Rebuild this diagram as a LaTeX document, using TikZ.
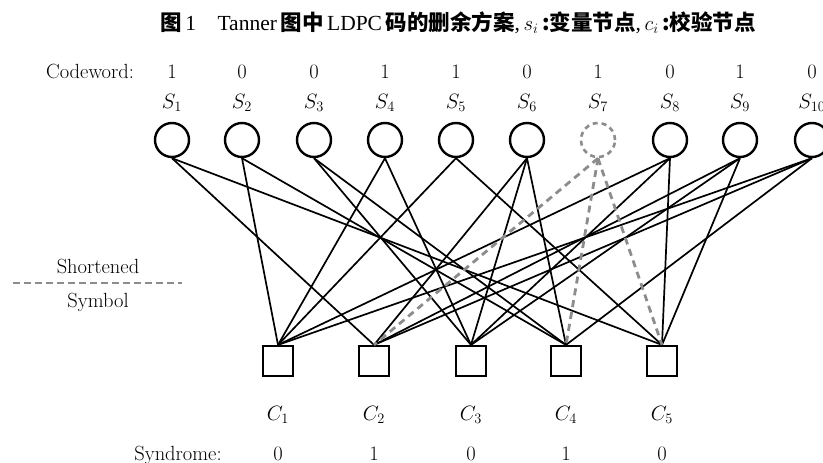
\documentclass[tikz,border=0pt]{standalone}
\usepackage{fontspec}
\newfontfamily\cjk{Noto Sans CJK SC}
\newfontfamily\tnr{Liberation Serif}
\definecolor{shgray}{RGB}{140,140,140}
\begin{document}
\begin{tikzpicture}[x=1pt,y=-1pt,
  vnode/.style={circle, draw, line width=2.4pt, minimum size=34pt, inner sep=0pt},
  snode/.style={circle, draw=shgray, line width=2.6pt, minimum size=34pt, inner sep=0pt, dash pattern=on 5pt off 4pt},
  cnode/.style={rectangle, draw, line width=2.2pt, minimum width=30pt, minimum height=30pt, inner sep=0pt},
  edge/.style={line width=1.7pt},
  sedge/.style={line width=2.8pt, draw=shgray, dash pattern=on 7pt off 5pt},
  lbl/.style={font=\fontsize{20.5}{24}\selectfont, inner sep=0pt, anchor=base},
  titlefont/.style={font=\fontsize{21.5}{24}\selectfont, inner sep=0pt}
]
\useasboundingbox (0,0) rectangle (823,463);

% title
\node[titlefont] (title) at (458,23) {{\cjk\bfseries 图}\,{\tnr 1}\quad{\tnr Tanner}\,{\cjk\bfseries 图中}\,{\tnr LDPC}\,{\cjk\bfseries 码的删余方案}{\tnr ,}\,$s_i$\,{\cjk\bfseries :}{\cjk\bfseries 变量节点}{\tnr ,}\,$c_i$\,{\cjk\bfseries :}{\cjk\bfseries 校验节点}};

% codeword row
\node[lbl] (cwl) at (90,78) {Codeword:};
\foreach \x/\b [count=\i] in {172/1,242/0,314/0,385/1,456/1,527/0,598/1,670/0,740/1,812/0}{
  \node[lbl] (b\i) at (\x,78) {\b};
  \node[lbl] (sl\i) at (\x,108) {$S_{\i}$};
}

% variable nodes
\foreach \x [count=\i] in {172,242,314,385,456,527}{
  \node[vnode] (s\i) at (\x,140) {};
}
\node[snode] (s7) at (598,140) {};
\foreach \x [count=\i from 8] in {670,740,812}{
  \node[vnode] (s\i) at (\x,140) {};
}

% check nodes
\foreach \x/\b [count=\i] in {278/0,374/1,471/0,566/1,662/0}{
  \node[cnode] (c\i) at (\x,361) {};
  \node[lbl] (cl\i) at (\x,420) {$C_{\i}$};
  \node[lbl] (sy\i) at (\x,460) {\b};
}
\node[lbl] (syl) at (178,460) {Syndrome:};

% edges
\foreach \v/\c in {1/2,1/5,2/1,2/4,3/3,3/4,4/1,4/3,5/1,5/5,6/2,6/3,6/4,8/1,8/3,8/5,9/2,9/3,9/5,10/1,10/2,10/4}{
  \draw[edge] (s\v.south) -- (c\c.north);
}
\foreach \c in {2,4,5}{
  \draw[sedge] (s7.south) -- (c\c.north);
}

% legend
\node[lbl] (sh) at (98,273) {Shortened};
\node[lbl] (sym) at (98,307) {Symbol};
\coordinate (la) at (13,283);
\coordinate (lb) at (182,283);
\draw[sedge, dash pattern=on 7pt off 4pt] (la) -- (lb);
\end{tikzpicture}
\end{document}
